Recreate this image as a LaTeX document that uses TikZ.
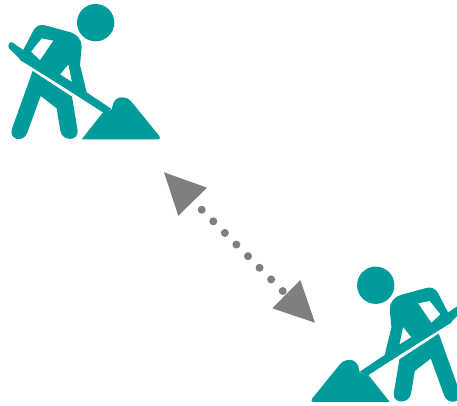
\documentclass[tikz,border=0pt]{standalone}
\definecolor{teal1}{HTML}{009B9B}
\definecolor{gray1}{HTML}{7F7F7F}
\tikzset{
  teal fill/.style={fill=teal1,draw=none},
  tip fill/.style={fill=gray1,draw=none},
  pics/worker/.style={code={
    \fill[teal fill] (287,68) circle (56);
    % torso and arm, with the holes
    \fill[teal fill,even odd rule]
      (62,165) -- (100,92) .. controls (108,78) and (120,72) .. (135,76)
      -- (212,97) .. controls (232,103) and (245,120) .. (245,140)
      -- (240,195) -- (262,285) -- (245,295) -- (60,180) .. controls (54,174) and (58,170) .. (62,165) -- cycle
      (125,115) -- (160,122) -- (120,181) -- (93,155) -- cycle
      (205,193) -- (216,246) -- (180,224) -- cycle;
    % handle
    \fill[teal fill]
      (36,127) -- (336,328) -- (310,338) -- (60,177) -- (27,145)
      .. controls (22,138) and (28,124) .. (36,127) -- cycle;
    % hand
    \fill[teal fill] (72,170) circle (14);
    % legs
    \fill[teal fill]
      (98,213) -- (216,290) -- (233,392) .. controls (236,425) and (186,425) .. (181,392)
      -- (170,325) -- (122,288) -- (82,398) .. controls (70,430) and (25,420) .. (36,386) -- cycle;
    % heap
    \fill[teal fill]
      (245,418) -- (310,336) -- (335,330) .. controls (340,300) and (350,292) .. (365,292)
      .. controls (378,292) and (388,297) .. (395,306)
      -- (478,408) .. controls (482,413) and (480,418) .. (475,418) -- cycle;
  }}
}
\begin{document}
\begin{tikzpicture}[x=1pt,y=-1pt]
\useasboundingbox (0,0) rectangle (457,406);
\clip (0,0) rectangle (457,406);
\begin{scope}[x=0.3333pt,y=-0.3333pt]
  \pic (w1) at (0,0) {worker};
\end{scope}
\begin{scope}[shift={(471.4,262.6)},x=-0.3333pt,y=-0.3333pt]
  \pic (w2) at (0,0) {worker};
\end{scope}
\coordinate (d1) at (201.7,209.7);
\coordinate (d2) at (283.2,291.5);
\fill[tip fill] (164,172.3) -- (207,187.7) -- (178.3,215.7) -- cycle;
\draw[gray1,line width=8,line cap=round,dash pattern=on 0pt off 16.4pt] (d1) -- (d2);
\fill[tip fill] (300.3,280) -- (315,322.7) -- (272.3,308.3) -- cycle;
\end{tikzpicture}
\end{document}
